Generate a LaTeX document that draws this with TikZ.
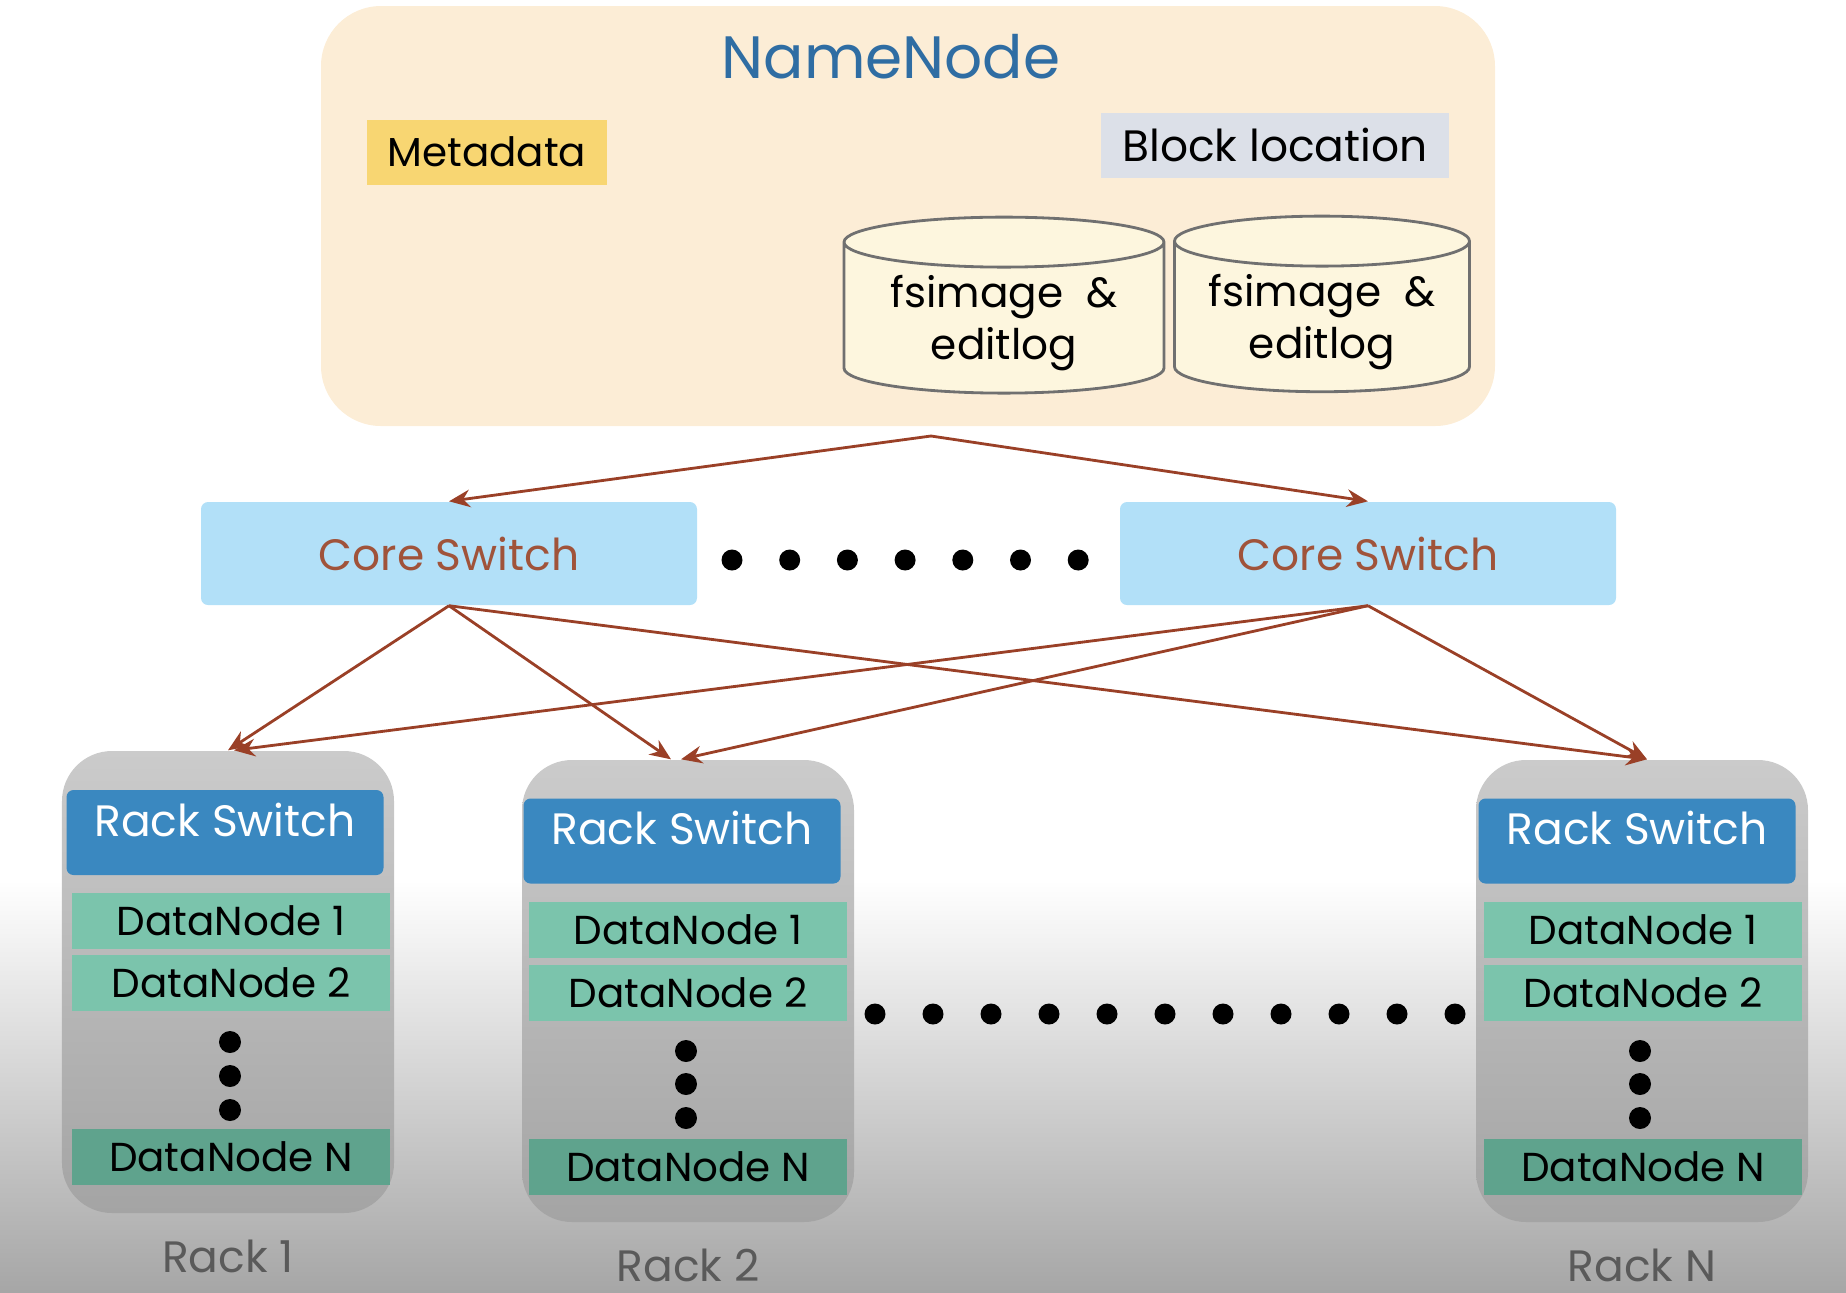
\documentclass[tikz,border=0pt]{standalone}
\usepackage{fontspec}
\setmainfont{Poppins}
\usetikzlibrary{shapes.geometric,positioning,arrows.meta}
\definecolor{nnfill}{HTML}{FCEDD6}
\definecolor{nnblue}{HTML}{2F6DA3}
\definecolor{metayellow}{HTML}{F8D672}
\definecolor{blockgray}{HTML}{DCE0E8}
\definecolor{cylfill}{HTML}{FDF6DE}
\definecolor{cylline}{HTML}{707070}
\definecolor{coreblue}{HTML}{B2E0F8}
\definecolor{corebrown}{HTML}{A0533A}
\definecolor{linkbrown}{HTML}{9A4027}
\definecolor{rackblue}{HTML}{3A88C0}
\definecolor{dngreen}{HTML}{7BC4AC}
\definecolor{dndark}{HTML}{5FA38D}
\definecolor{racktop}{HTML}{CBCBCB}
\definecolor{rackbot}{HTML}{A4A4A4}
\definecolor{bggray}{HTML}{A6A6A6}
\definecolor{lblgray}{HTML}{5A5A5A}

\begin{document}
\begin{tikzpicture}[
  txt/.style={font=\fontsize{12.5}{15}\selectfont},
  small/.style={font=\fontsize{11.5}{14}\selectfont},
  nnbox/.style={fill=nnfill, rounded corners=0.6cm, minimum width=11.74cm, minimum height=4.2cm},
  tagbox/.style={minimum height=0.65cm, inner xsep=6pt},
  disk/.style={font=\fontsize{12}{15}\selectfont, cylinder, shape border rotate=90, aspect=0.2, draw=cylline, line width=0.8pt,
    fill=cylfill, align=center, inner ysep=1.8pt, minimum width=3.2cm, minimum height=1.4cm},
  corebox/.style={txt, fill=coreblue, rounded corners=2pt, minimum width=4.96cm, minimum height=1.03cm, text=corebrown},
  rackbox/.style={top color=racktop, bottom color=rackbot, rounded corners=0.5cm, minimum width=3.32cm, minimum height=4.62cm},
  swbox/.style={txt, fill=rackblue, rounded corners=2pt, minimum width=3.17cm, minimum height=0.85cm,
    text height=9pt, text depth=7pt, text=white},
  dnbox/.style={small, fill=dngreen, minimum width=3.18cm, minimum height=0.56cm},
  racklbl/.style={txt, text=lblgray},
  arr/.style={->, >={Stealth[length=6pt,width=5pt]}, line width=0.8pt, draw=linkbrown},
  blob/.style={fill=black}
]
  \useasboundingbox (0,0) rectangle (18.46,-12.92);
  \shade[top color=white, bottom color=bggray] (0,-8.8) rectangle (18.46,-12.92);

  % name node
  \node[nnbox] (nn) at (9.08,-2.16) {};
  \node[font=\fontsize{17}{20}\selectfont, text=nnblue] (nntitle) at (8.91,-0.57) {NameNode};
  \node[tagbox, small, fill=metayellow] (meta) at (4.87,-1.52) {Metadata};
  \node[tagbox, txt, fill=blockgray] (blockloc) at (12.75,-1.45) {Block location};
  \node[disk] (img1) at (10.04,-3.23) {fsimage~~\&\\editlog};
  \node[disk, minimum width=2.95cm] (img2) at (13.22,-3.22) {fsimage~~\&\\editlog};
  \coordinate (nnport) at (9.31,-4.36);

  % core switches
  \node[corebox] (cs1) at (4.49,-5.535) {Core Switch};
  \node[corebox] (cs2) at (13.68,-5.535) {Core Switch};
  \foreach \i in {0,...,6}
    \fill[blob] (7.32+0.577*\i,-5.60) circle (0.105);

  % racks
  \node[rackbox] (rack1) at (2.28,-9.82) {};
  \node[swbox] (sw1) at (2.25,-8.325) {Rack Switch};
  \node[dnbox] (dn11) at (2.31,-9.205) {DataNode 1};
  \node[dnbox] (dn12) at (2.31,-9.825) {DataNode 2};
  \node[dnbox, fill=dndark] (dn1n) at (2.31,-11.57) {DataNode N};
  \foreach \y in {-10.42,-10.76,-11.10}
    \fill[blob] (2.30,\y) circle (0.11);
  \node[racklbl, below=4pt] (lbl1) at (rack1.south) {Rack 1};

  \node[rackbox] (rack2) at (6.88,-9.91) {};
  \node[swbox] (sw2) at (6.82,-8.41) {Rack Switch};
  \node[dnbox] (dn21) at (6.88,-9.295) {DataNode 1};
  \node[dnbox] (dn22) at (6.88,-9.925) {DataNode 2};
  \node[dnbox, fill=dndark] (dn2n) at (6.88,-11.67) {DataNode N};
  \foreach \y in {-10.51,-10.84,-11.18}
    \fill[blob] (6.86,\y) circle (0.11);
  \node[racklbl, below=4pt] (lbl2) at (rack2.south) {Rack 2};

  \node[rackbox] (rackn) at (16.42,-9.91) {};
  \node[swbox] (swn) at (16.37,-8.41) {Rack Switch};
  \node[dnbox] (dnn1) at (16.43,-9.295) {DataNode 1};
  \node[dnbox] (dnn2) at (16.43,-9.925) {DataNode 2};
  \node[dnbox, fill=dndark] (dnnn) at (16.43,-11.67) {DataNode N};
  \foreach \y in {-10.51,-10.84,-11.18}
    \fill[blob] (16.40,\y) circle (0.11);
  \node[racklbl, below=4pt] (lbln) at (rackn.south) {Rack N};

  \foreach \i in {0,...,10}
    \fill[blob] (8.75+0.58*\i,-10.14) circle (0.105);

  % links
  \draw[arr] (nnport) -- (cs1.north);
  \draw[arr] (nnport) -- (cs2.north);
  \draw[arr] (cs1.south) -- (rack1.north);
  \draw[arr] (cs1.south) -- ([xshift=-0.17cm]rack2.north);
  \draw[arr] (cs1.south) -- ([xshift=0.05cm]rackn.north);
  \draw[arr] (cs2.south) -- ([xshift=0.06cm]rack1.north);
  \draw[arr] (cs2.south) -- ([xshift=-0.07cm]rack2.north);
  \draw[arr] (cs2.south) -- ([xshift=0.05cm]rackn.north);
\end{tikzpicture}
\end{document}
